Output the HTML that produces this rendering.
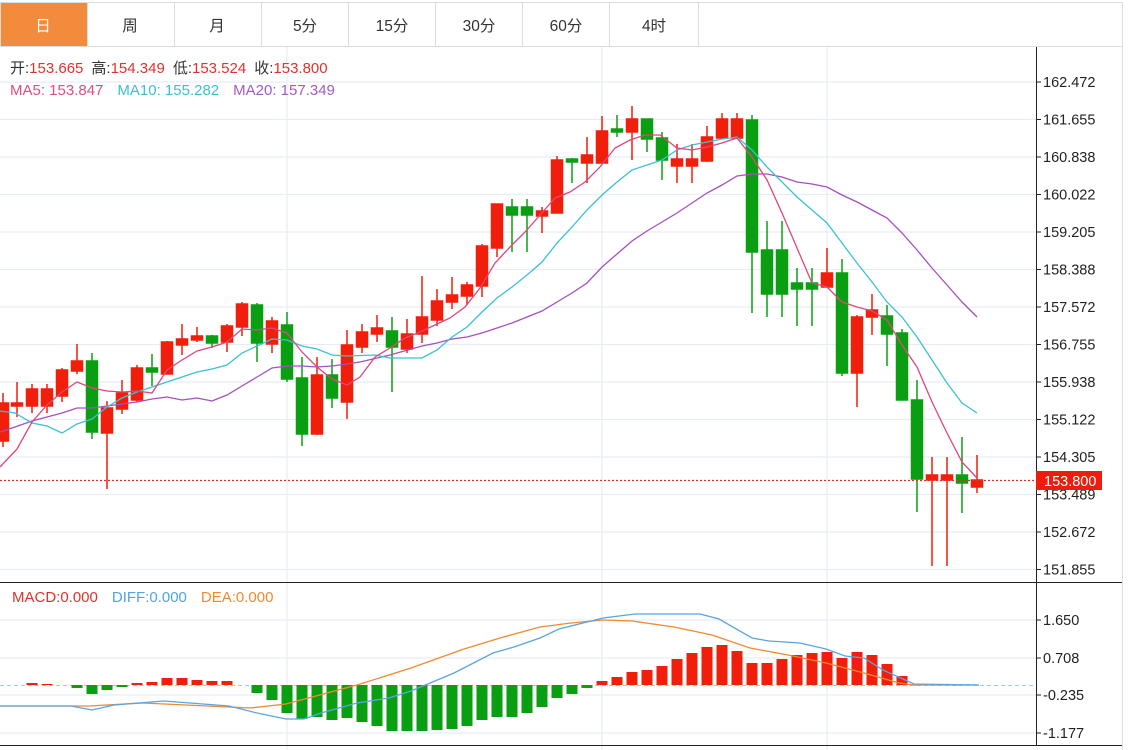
<!DOCTYPE html>
<html><head><meta charset="utf-8"><style>
html,body{margin:0;padding:0;background:#fff;}
body{width:1137px;height:750px;overflow:hidden;position:relative;font-family:"Liberation Sans","Noto Sans CJK SC",sans-serif;}
svg{position:absolute;left:0;top:0;}
</style></head><body>
<svg width="1137" height="750" viewBox="0 0 1137 750" xmlns="http://www.w3.org/2000/svg" font-family="Liberation Sans, Noto Sans CJK SC, sans-serif">
<rect x="0.5" y="2.5" width="1122" height="44" fill="#fff" stroke="#dcdcdc"/>
<rect x="1" y="3" width="86" height="43" fill="#f28b3c"/>
<g stroke="#dcdcdc"><line x1="87.5" y1="3" x2="87.5" y2="46"/><line x1="174.5" y1="3" x2="174.5" y2="46"/><line x1="261.5" y1="3" x2="261.5" y2="46"/><line x1="348.5" y1="3" x2="348.5" y2="46"/><line x1="435.5" y1="3" x2="435.5" y2="46"/><line x1="522.5" y1="3" x2="522.5" y2="46"/><line x1="609.5" y1="3" x2="609.5" y2="46"/><line x1="698.5" y1="3" x2="698.5" y2="46"/></g>
<g font-size="15.5" text-anchor="middle" fill="#333">
<text x="43" y="31" fill="#fff">日</text><text x="130" y="31">周</text><text x="217" y="31">月</text><text x="305" y="31">5分</text><text x="392" y="31">15分</text><text x="479" y="31">30分</text><text x="566" y="31">60分</text><text x="654" y="31">4时</text>
</g>
<line x1="1122.5" y1="2" x2="1122.5" y2="750" stroke="#dcdcdc"/>
<g stroke="#e7edf3" stroke-width="1.2">
<line x1="0" x2="1036" y1="82" y2="82"/><line x1="0" x2="1036" y1="119.5" y2="119.5"/><line x1="0" x2="1036" y1="157" y2="157"/><line x1="0" x2="1036" y1="194.5" y2="194.5"/><line x1="0" x2="1036" y1="232" y2="232"/><line x1="0" x2="1036" y1="269.5" y2="269.5"/><line x1="0" x2="1036" y1="307" y2="307"/><line x1="0" x2="1036" y1="344.5" y2="344.5"/><line x1="0" x2="1036" y1="382" y2="382"/><line x1="0" x2="1036" y1="419.5" y2="419.5"/><line x1="0" x2="1036" y1="457" y2="457"/><line x1="0" x2="1036" y1="494.5" y2="494.5"/><line x1="0" x2="1036" y1="532" y2="532"/><line x1="0" x2="1036" y1="569.5" y2="569.5"/>
<line x1="0" x2="1036" y1="620" y2="620"/><line x1="0" x2="1036" y1="658" y2="658"/><line x1="0" x2="1036" y1="695" y2="695"/><line x1="0" x2="1036" y1="733" y2="733"/>
<line x1="287" x2="287" y1="47" y2="750"/><line x1="602" x2="602" y1="47" y2="750"/><line x1="827" x2="827" y1="47" y2="750"/>
</g>
<line x1="1036.5" y1="47" x2="1036.5" y2="746" stroke="#222"/>
<line x1="0" y1="582.5" x2="1122" y2="582.5" stroke="#222"/>
<line x1="0" y1="745.5" x2="1122" y2="745.5" stroke="#222"/>
<g stroke="#222"><line x1="1036" x2="1041" y1="82" y2="82"/><line x1="1036" x2="1041" y1="119.5" y2="119.5"/><line x1="1036" x2="1041" y1="157" y2="157"/><line x1="1036" x2="1041" y1="194.5" y2="194.5"/><line x1="1036" x2="1041" y1="232" y2="232"/><line x1="1036" x2="1041" y1="269.5" y2="269.5"/><line x1="1036" x2="1041" y1="307" y2="307"/><line x1="1036" x2="1041" y1="344.5" y2="344.5"/><line x1="1036" x2="1041" y1="382" y2="382"/><line x1="1036" x2="1041" y1="419.5" y2="419.5"/><line x1="1036" x2="1041" y1="457" y2="457"/><line x1="1036" x2="1041" y1="494.5" y2="494.5"/><line x1="1036" x2="1041" y1="532" y2="532"/><line x1="1036" x2="1041" y1="569.5" y2="569.5"/><line x1="1036" x2="1041" y1="620" y2="620"/><line x1="1036" x2="1041" y1="658" y2="658"/><line x1="1036" x2="1041" y1="695" y2="695"/><line x1="1036" x2="1041" y1="733" y2="733"/></g>
<g font-size="14.5" fill="#222">
<text x="1043" y="87">162.472</text><text x="1043" y="124.5">161.655</text><text x="1043" y="162">160.838</text><text x="1043" y="199.5">160.022</text><text x="1043" y="237">159.205</text><text x="1043" y="274.5">158.388</text><text x="1043" y="312">157.572</text><text x="1043" y="349.5">156.755</text><text x="1043" y="387">155.938</text><text x="1043" y="424.5">155.122</text><text x="1043" y="462">154.305</text><text x="1043" y="499.5">153.489</text><text x="1043" y="537">152.672</text><text x="1043" y="574.5">151.855</text>
<text x="1043" y="625">1.650</text><text x="1043" y="663">0.708</text><text x="1043" y="700">-0.235</text><text x="1043" y="738">-1.177</text>
</g>
<g stroke-width="1.5">
<g stroke="#f01e0a" fill="#f01e0a">
<line x1="3" x2="3" y1="393" y2="447"/><rect x="-2.5" y="403" width="11" height="38"/>
<line x1="17" x2="17" y1="382" y2="417"/><rect x="11.5" y="403" width="11" height="3"/>
<line x1="32" x2="32" y1="384" y2="413"/><rect x="26.5" y="389" width="11" height="17"/>
<line x1="47" x2="47" y1="384" y2="413"/><rect x="41.5" y="389" width="11" height="17"/>
<line x1="62" x2="62" y1="368" y2="402"/><rect x="56.5" y="370" width="11" height="26"/>
<line x1="77" x2="77" y1="344" y2="374"/><rect x="71.5" y="361" width="11" height="10"/>
<line x1="107" x2="107" y1="401" y2="489"/><rect x="101.5" y="408" width="11" height="25"/>
<line x1="122" x2="122" y1="380" y2="414"/><rect x="116.5" y="393" width="11" height="16"/>
<line x1="137" x2="137" y1="365" y2="402"/><rect x="131.5" y="368" width="11" height="32"/>
<line x1="167" x2="167" y1="341" y2="374"/><rect x="161.5" y="342" width="11" height="32"/>
<line x1="182" x2="182" y1="324" y2="355"/><rect x="176.5" y="339" width="11" height="6"/>
<line x1="197" x2="197" y1="327" y2="342"/><rect x="191.5" y="336" width="11" height="4"/>
<line x1="227" x2="227" y1="324" y2="352"/><rect x="221.5" y="326" width="11" height="16"/>
<line x1="242" x2="242" y1="302" y2="336"/><rect x="236.5" y="304" width="11" height="23"/>
<line x1="272" x2="272" y1="317" y2="353"/><rect x="266.5" y="321" width="11" height="23"/>
<line x1="317" x2="317" y1="357" y2="435"/><rect x="311.5" y="375" width="11" height="59"/>
<line x1="347" x2="347" y1="330" y2="419"/><rect x="341.5" y="345" width="11" height="57"/>
<line x1="362" x2="362" y1="324" y2="353"/><rect x="356.5" y="332" width="11" height="15"/>
<line x1="377" x2="377" y1="315" y2="342"/><rect x="371.5" y="328" width="11" height="6"/>
<line x1="407" x2="407" y1="319" y2="353"/><rect x="401.5" y="334" width="11" height="15"/>
<line x1="422" x2="422" y1="276" y2="343"/><rect x="416.5" y="317" width="11" height="17"/>
<line x1="437" x2="437" y1="289" y2="326"/><rect x="431.5" y="301" width="11" height="19"/>
<line x1="452" x2="452" y1="277" y2="309"/><rect x="446.5" y="295" width="11" height="7"/>
<line x1="467" x2="467" y1="282" y2="305"/><rect x="461.5" y="285" width="11" height="11"/>
<line x1="482" x2="482" y1="244" y2="297"/><rect x="476.5" y="246" width="11" height="40"/>
<line x1="497" x2="497" y1="204" y2="257"/><rect x="491.5" y="204" width="11" height="44"/>
<line x1="542" x2="542" y1="207" y2="233"/><rect x="536.5" y="211" width="11" height="5"/>
<line x1="557" x2="557" y1="156" y2="213"/><rect x="551.5" y="160" width="11" height="53"/>
<line x1="587" x2="587" y1="137" y2="183"/><rect x="581.5" y="155" width="11" height="8"/>
<line x1="602" x2="602" y1="116" y2="163"/><rect x="596.5" y="131" width="11" height="32"/>
<line x1="632" x2="632" y1="106" y2="160"/><rect x="626.5" y="119" width="11" height="13"/>
<line x1="677" x2="677" y1="144" y2="183"/><rect x="671.5" y="159" width="11" height="7"/>
<line x1="692" x2="692" y1="144" y2="183"/><rect x="686.5" y="159" width="11" height="7"/>
<line x1="707" x2="707" y1="126" y2="162"/><rect x="701.5" y="137" width="11" height="24"/>
<line x1="722" x2="722" y1="113" y2="138"/><rect x="716.5" y="119" width="11" height="19"/>
<line x1="737" x2="737" y1="113" y2="138"/><rect x="731.5" y="119" width="11" height="19"/>
<line x1="827" x2="827" y1="248" y2="287"/><rect x="821.5" y="273" width="11" height="14"/>
<line x1="857" x2="857" y1="315" y2="407"/><rect x="851.5" y="317" width="11" height="56"/>
<line x1="872" x2="872" y1="294" y2="335"/><rect x="866.5" y="310" width="11" height="7"/>
<line x1="932" x2="932" y1="457" y2="566"/><rect x="926.5" y="475" width="11" height="5"/>
<line x1="947" x2="947" y1="457" y2="566"/><rect x="941.5" y="475" width="11" height="5"/>
<line x1="977" x2="977" y1="455" y2="493"/><rect x="971.5" y="480" width="11" height="7"/>
</g>
<g stroke="#0a9f12" fill="#0a9f12">
<line x1="92" x2="92" y1="353" y2="439"/><rect x="86.5" y="361" width="11" height="71"/>
<line x1="152" x2="152" y1="354" y2="386"/><rect x="146.5" y="368" width="11" height="4"/>
<line x1="212" x2="212" y1="335" y2="348"/><rect x="206.5" y="336" width="11" height="7"/>
<line x1="257" x2="257" y1="303" y2="362"/><rect x="251.5" y="305" width="11" height="38"/>
<line x1="287" x2="287" y1="312" y2="382"/><rect x="281.5" y="325" width="11" height="54"/>
<line x1="302" x2="302" y1="357" y2="446"/><rect x="296.5" y="378" width="11" height="56"/>
<line x1="332" x2="332" y1="359" y2="408"/><rect x="326.5" y="375" width="11" height="23"/>
<line x1="392" x2="392" y1="317" y2="392"/><rect x="386.5" y="331" width="11" height="16"/>
<line x1="512" x2="512" y1="199" y2="252"/><rect x="506.5" y="207" width="11" height="8"/>
<line x1="527" x2="527" y1="199" y2="252"/><rect x="521.5" y="207" width="11" height="8"/>
<line x1="572" x2="572" y1="158" y2="183"/><rect x="566.5" y="159" width="11" height="3"/>
<line x1="617" x2="617" y1="115" y2="137"/><rect x="611.5" y="129" width="11" height="3"/>
<line x1="647" x2="647" y1="119" y2="152"/><rect x="641.5" y="119" width="11" height="20"/>
<line x1="662" x2="662" y1="132" y2="180"/><rect x="656.5" y="138" width="11" height="22"/>
<line x1="752" x2="752" y1="115" y2="313"/><rect x="746.5" y="120" width="11" height="132"/>
<line x1="767" x2="767" y1="221" y2="317"/><rect x="761.5" y="250" width="11" height="44"/>
<line x1="782" x2="782" y1="221" y2="317"/><rect x="776.5" y="250" width="11" height="44"/>
<line x1="797" x2="797" y1="268" y2="326"/><rect x="791.5" y="283" width="11" height="6"/>
<line x1="812" x2="812" y1="268" y2="326"/><rect x="806.5" y="283" width="11" height="6"/>
<line x1="842" x2="842" y1="259" y2="376"/><rect x="836.5" y="273" width="11" height="100"/>
<line x1="887" x2="887" y1="305" y2="366"/><rect x="881.5" y="316" width="11" height="18"/>
<line x1="902" x2="902" y1="329" y2="400"/><rect x="896.5" y="333" width="11" height="67"/>
<line x1="917" x2="917" y1="380" y2="512"/><rect x="911.5" y="400" width="11" height="79"/>
<line x1="962" x2="962" y1="437" y2="513"/><rect x="956.5" y="475" width="11" height="8"/>
</g>
</g>
<g fill="none" stroke-width="1.3">
<polyline stroke="#a64fc0" points="0,432 15,427 32,421 47,417 62,413 77,408 92,408 107,406 122,404 137,402 152,399 167,397 182,400 197,398 212,401 227,395 242,386 257,377 272,368 287,366 302,366 317,367 332,366 347,364 360,362 390,355 422,346 437,343 452,339 467,337 482,333 497,328 512,323 527,317 542,311 557,302 572,293 587,283 602,267 617,254 632,241 647,231 662,222 677,213 692,203 707,193 722,185 737,176 752,174 767,174 782,177 797,182 812,184 827,187 842,195 857,202 872,210 887,218 902,233 917,250 932,268 947,285 962,302 977,317"/>
<polyline stroke="#3cc0d4" points="0,411 15,413 32,423 47,426 62,433 77,424 92,419 107,407 122,398 137,392 152,387 167,382 182,377 197,372 212,369 227,365 242,353 257,346 272,339 287,340 302,346 317,349 332,355 347,356 375,355 390,358 422,358 437,350 452,337 467,327 482,312 497,298 512,287 527,275 542,262 557,243 572,227 587,210 602,195 617,182 632,170 647,165 662,160 677,150 692,145 707,142 722,139 737,137 752,150 767,167 782,182 797,197 812,210 827,223 842,243 857,263 872,282 887,302 902,317 917,337 932,360 947,383 962,403 977,413"/>
<polyline stroke="#e0467c" points="0,467 17,449 32,422 47,405 62,392 77,382 92,388 107,391 122,392 137,391 152,393 167,370 182,360 197,351 212,347 227,342 242,329 257,330 272,328 287,333 302,352 317,367 332,379 347,385 360,377 375,357 390,348 405,338 420,332 435,325 450,318 465,307 480,288 495,263 510,247 525,232 540,215 555,198 570,192 585,182 600,167 615,148 630,140 645,135 660,135 677,148 692,150 707,147 722,143 737,138 752,157 767,180 782,213 797,248 812,283 827,287 842,302 857,307 872,311 887,320 902,345 917,367 932,402 947,433 962,462 977,478"/>
</g>
<line x1="0" y1="480.5" x2="1036" y2="480.5" stroke="#d9342b" stroke-width="1.2" stroke-dasharray="2,2"/>
<rect x="1036" y="471" width="66" height="19" fill="#ee1c0c"/>
<text x="1044" y="486" font-size="14.5" fill="#fff">153.800</text>
<g font-size="15">
<text x="10" y="73"><tspan fill="#333">开:</tspan><tspan fill="#e0332c">153.665</tspan><tspan fill="#333" dx="8">高:</tspan><tspan fill="#e0332c">154.349</tspan><tspan fill="#333" dx="8">低:</tspan><tspan fill="#e0332c">153.524</tspan><tspan fill="#333" dx="8">收:</tspan><tspan fill="#e0332c">153.800</tspan></text>
<text x="10" y="95"><tspan fill="#dd4f7e">MA5: 153.847</tspan><tspan fill="#3cbfd3" dx="14">MA10: 155.282</tspan><tspan fill="#a35bc2" dx="14">MA20: 157.349</tspan></text>
<text x="12" y="602"><tspan fill="#e0332c">MACD:0.000</tspan><tspan fill="#4ea5e0" dx="14">DIFF:0.000</tspan><tspan fill="#f08a30" dx="14">DEA:0.000</tspan></text>
</g>
<line x1="0" y1="685.5" x2="1036" y2="685.5" stroke="#9ccbe8" stroke-dasharray="4,3"/>
<g fill="#f01e0a">
<rect x="26.5" y="683" width="11" height="2"/><rect x="41.5" y="684" width="11" height="1"/>
<rect x="131.5" y="683" width="11" height="2"/><rect x="146.5" y="682" width="11" height="3"/><rect x="161.5" y="678" width="11" height="7"/><rect x="176.5" y="678" width="11" height="7"/><rect x="191.5" y="680" width="11" height="5"/><rect x="206.5" y="681" width="11" height="4"/><rect x="221.5" y="681" width="11" height="4"/>
<rect x="596.5" y="681" width="11" height="4"/><rect x="611.5" y="677" width="11" height="8"/><rect x="626.5" y="672" width="11" height="13"/><rect x="641.5" y="670" width="11" height="15"/><rect x="656.5" y="666" width="11" height="19"/><rect x="671.5" y="659" width="11" height="26"/><rect x="686.5" y="653" width="11" height="32"/><rect x="701.5" y="647" width="11" height="38"/><rect x="716.5" y="645" width="11" height="40"/><rect x="731.5" y="651" width="11" height="34"/><rect x="746.5" y="663" width="11" height="22"/><rect x="761.5" y="663" width="11" height="22"/><rect x="776.5" y="659" width="11" height="26"/><rect x="791.5" y="655" width="11" height="30"/><rect x="806.5" y="653" width="11" height="32"/><rect x="821.5" y="652" width="11" height="33"/><rect x="836.5" y="658" width="11" height="27"/><rect x="851.5" y="652" width="11" height="33"/><rect x="866.5" y="655" width="11" height="30"/><rect x="881.5" y="664" width="11" height="21"/><rect x="896.5" y="676" width="11" height="9"/>
</g>
<g fill="#0a9f12">
<rect x="71.5" y="685" width="11" height="3"/><rect x="86.5" y="685" width="11" height="9"/><rect x="101.5" y="685" width="11" height="5"/><rect x="116.5" y="685" width="11" height="2"/>
<rect x="251.5" y="685" width="11" height="8"/><rect x="266.5" y="685" width="11" height="15"/><rect x="281.5" y="685" width="11" height="28"/><rect x="296.5" y="685" width="11" height="34"/><rect x="311.5" y="685" width="11" height="32"/><rect x="326.5" y="685" width="11" height="35"/><rect x="341.5" y="685" width="11" height="33"/><rect x="356.5" y="685" width="11" height="37"/><rect x="371.5" y="685" width="11" height="41"/><rect x="386.5" y="685" width="11" height="46"/><rect x="401.5" y="685" width="11" height="46"/><rect x="416.5" y="685" width="11" height="46"/><rect x="431.5" y="685" width="11" height="45"/><rect x="446.5" y="685" width="11" height="44"/><rect x="461.5" y="685" width="11" height="41"/><rect x="476.5" y="685" width="11" height="35"/><rect x="491.5" y="685" width="11" height="32"/><rect x="506.5" y="685" width="11" height="32"/><rect x="521.5" y="685" width="11" height="28"/><rect x="536.5" y="685" width="11" height="22"/><rect x="551.5" y="685" width="11" height="13"/><rect x="566.5" y="685" width="11" height="9"/><rect x="581.5" y="685" width="11" height="3"/>
</g>
<g fill="none" stroke-width="1.3">
<polyline stroke="#f08a30" points="0,706 89,706 143,703 250,708 286,704 357,685 411,668 464,649 500,638 540,627 571,623 603,620 632,621 674,627 712,635 750,648 788,655 826,663 864,673 899,683 914,685 979,685"/>
<polyline stroke="#5aa5e0" points="0,706 71,706 92,710 114,705 164,701 229,706 257,713 286,719 304,719 321,713 357,703 389,698 411,691 454,673 493,653 514,647 540,638 559,629 603,618 635,614 700,614 719,619 752,638 769,641 800,643 826,649 845,656 864,658 883,670 914,684 979,685"/>
</g>
</svg>
</body></html>
